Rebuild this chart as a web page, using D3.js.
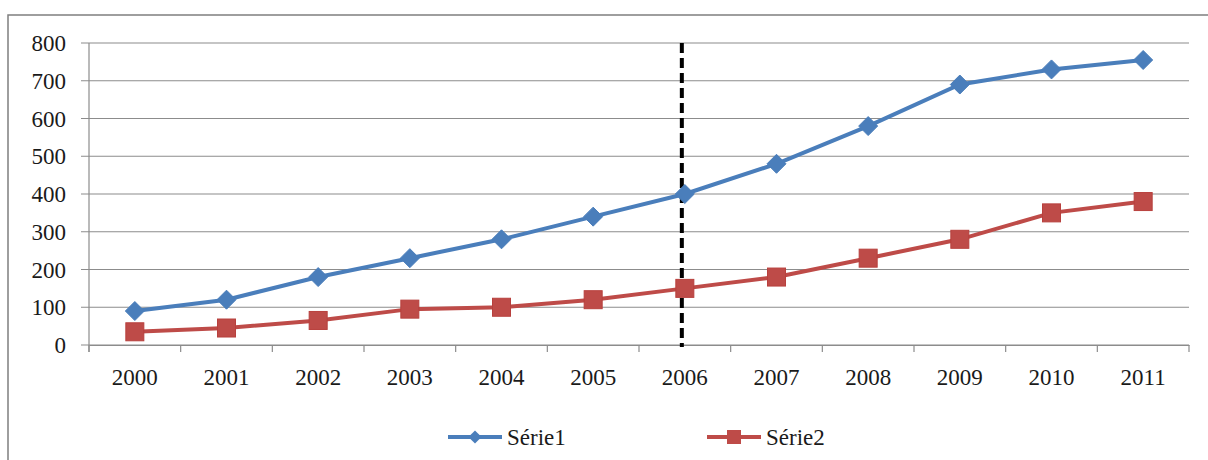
<!DOCTYPE html>
<html><head><meta charset="utf-8">
<script src="https://cdn.jsdelivr.net/npm/d3@7"></script>
</head><body style="margin:0;font-family:'Times New Roman',serif">
<svg id="c" width="1208" height="460" style="font-family:'Times New Roman','Liberation Serif',Tinos,serif"></svg>
<script>
const categories = ["2000","2001","2002","2003","2004","2005","2006","2007","2008","2009","2010","2011"];
const serie1 = [90,120,180,230,280,340,400,480,580,690,730,755];
const serie2 = [35,45,65,95,100,120,150,180,230,280,350,380];
const yTicks = [0,100,200,300,400,500,600,700,800];
const seriesNames = ["Série1","Série2"];
const markerYear = "2006";

const svg = d3.select("#c");
const font = "'Times New Roman','Liberation Serif',Tinos,serif";
const fs = "23px";
const m = {left:89, right:1189, top:43, bottom:345};

function label(sel){
  return sel.attr("font-family","Times New Roman").style("font-family",font).style("font-size",fs).attr("fill","#1a1a1a");
}

// outer frame
svg.append("rect").attr("x",8).attr("y",15).attr("width",1215).attr("height",460)
  .attr("fill","#fff").attr("stroke","#7f7f7f").attr("stroke-width",1.5);

const x = d3.scaleBand().domain(categories).range([m.left,m.right]);
const y = d3.scaleLinear().domain([0,800]).range([m.bottom,m.top]);

// gridlines
svg.append("g").selectAll("line").data(yTicks).join("line")
  .attr("x1",m.left-8).attr("x2",m.right)
  .attr("y1",d=>y(d)).attr("y2",d=>y(d))
  .attr("stroke","#8c8c8c").attr("stroke-width",1.2);

// y axis
svg.append("line").attr("x1",m.left).attr("x2",m.left).attr("y1",m.top).attr("y2",m.bottom+7)
  .attr("stroke","#8c8c8c").attr("stroke-width",1.2);
yTicks.forEach(d=>{
  label(svg.append("text").attr("x",66).attr("y",y(d)+8).attr("text-anchor","end")).text(String(d));
});

// x axis
const xa = svg.append("g").attr("transform",`translate(0,${m.bottom})`)
  .call(d3.axisBottom(x).tickSize(0).tickFormat(""));
xa.select(".domain").attr("stroke","#8c8c8c").attr("stroke-width",1.2);
categories.forEach(c=>{
  label(svg.append("text").attr("x",x(c)+x.bandwidth()/2).attr("y",m.bottom+40).attr("text-anchor","middle")).text(c);
});
const bounds = categories.map(c=>x(c)).concat([x.range()[1]]);
svg.append("g").selectAll("line").data(bounds).join("line")
  .attr("x1",d=>d).attr("x2",d=>d).attr("y1",m.bottom).attr("y2",m.bottom+7)
  .attr("stroke","#8c8c8c").attr("stroke-width",1.2);

const cx = c => x(c)+x.bandwidth()/2;
const line = d3.line().x((d,i)=>cx(categories[i])).y(d=>y(d));

// dashed vertical line
svg.append("line").attr("x1",cx(markerYear)-3).attr("x2",cx(markerYear)-3)
  .attr("y1",y(800)).attr("y2",m.bottom+2)
  .attr("stroke","#000").attr("stroke-width",4).attr("stroke-dasharray","10,5");

const blue="#4a7ebb", red="#be4b48";
svg.append("path").datum(serie1).attr("d",line).attr("fill","none").attr("stroke",blue).attr("stroke-width",4);
svg.append("path").datum(serie2).attr("d",line).attr("fill","none").attr("stroke",red).attr("stroke-width",4);

const diamond = d3.symbol().type(d3.symbolDiamond2).size(230);
svg.append("g").selectAll("path").data(serie1).join("path")
  .attr("d",diamond).attr("transform",(d,i)=>`translate(${cx(categories[i])},${y(d)})`)
  .attr("fill",blue).attr("stroke",blue).attr("stroke-width",1);
svg.append("g").selectAll("rect").data(serie2).join("rect")
  .attr("x",(d,i)=>cx(categories[i])-9).attr("y",d=>y(d)-9).attr("width",18).attr("height",18)
  .attr("fill",red).attr("stroke","#b8403d").attr("stroke-width",1);

// legend
const leg = [{name:seriesNames[0],c:blue,x0:448,type:"d"},{name:seriesNames[1],c:red,x0:707,type:"s"}];
leg.forEach(l=>{
  const ly=437;
  svg.append("line").attr("x1",l.x0).attr("x2",l.x0+54).attr("y1",ly).attr("y2",ly).attr("stroke",l.c).attr("stroke-width",4);
  if(l.type==="d") svg.append("path").attr("d",d3.symbol().type(d3.symbolDiamond2).size(110)).attr("transform",`translate(${l.x0+27},${ly})`).attr("fill",l.c);
  else svg.append("rect").attr("x",l.x0+20).attr("y",ly-7).attr("width",14).attr("height",14).attr("fill",l.c);
  label(svg.append("text").attr("x",l.x0+59).attr("y",ly+8)).text(l.name);
});
</script>
</body></html>
